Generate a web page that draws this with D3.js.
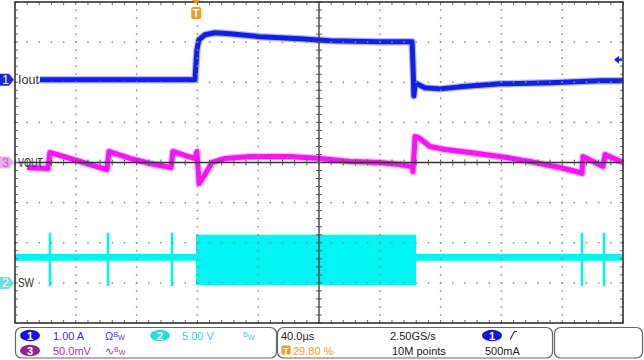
<!DOCTYPE html>
<html>
<head>
<meta charset="utf-8">
<script src="https://cdn.jsdelivr.net/npm/d3@7"></script>
<style>
  body { margin: 0; background: #fff; }
  svg { display: block; font-family: "Liberation Sans", Arial, sans-serif; }
</style>
</head>
<body>
<script>
// Scope settings
var timePerDiv = 40,        // us/div
    triggerPct = 29.80,     // trigger position, % of record
    triggerLevel = 0.5;     // A on ch1

// Iout (ch1), amps
var ioutT = [16.4, 118.4, 119.7, 121.0, 125.0, 131.6, 141.4, 161.2, 187.5, 207.2, 240.1, 261.2, 262.0, 262.4, 263.2, 269.7, 279.6, 292.8, 319.1, 352.0, 384.9, 400];
var ioutA = [0.0, 0.0, 0.75, 1.0, 1.125, 1.175, 1.15, 1.075, 1.025, 0.975, 0.95, 0.95, 0.2, -0.4, -0.075, -0.2, -0.225, -0.175, -0.1, -0.075, -0.025, -0.025];

// VOUT (ch3), mV
var voutT = [7.9, 21.7, 23.0, 29.6, 42.8, 60.5, 61.8, 75.7, 88.8, 102.6, 103.9, 111.8, 118.4, 119.7, 121.1, 125.0, 129.6, 138.2, 154.6, 180.9, 200.7, 220.4, 240.1, 253.3, 261.2, 261.8, 263.2, 266.4, 273.0, 282.9, 299.3, 319.1, 338.8, 358.6, 371.7, 373.0, 373.7, 386.8, 388.2, 400];
var voutMV = [-6.25, -7.5, 12.5, 8.75, 1.25, -8.75, 13.75, 5.0, -1.25, -6.25, 13.75, 8.75, 5.0, 13.75, -26.25, -15.0, 0.0, 5.0, 7.5, 7.5, 5.0, 1.25, 0.0, -2.5, -5.0, -11.25, 32.5, 30.0, 20.0, 16.25, 12.5, 7.5, 1.25, -6.25, -12.5, -13.75, 7.5, -5.0, 10.0, 0.0];

// SW (ch2), volts
var swIdle = 3.2;
var swSpikesT = [23.0, 61.2, 103.3, 373.0, 387.5];
var swSpikeLo = -0.4, swSpikeHi = 6.25;
var swBurst = [119.1, 263.8], swBurstLo = -0.25, swBurstHi = 6.0;

// channel setup: position (div) and scale (unit/div)
var channels = [
  { id: "1", label: "Iout", pos: 2.06, perDiv: 1,  color: "#1020e6", marker: "#1a28d6", mtext: "#fff" },
  { id: "2", label: "SW",   pos: -3.0, perDiv: 5,  color: "#00f4f4", marker: "#72dede", mtext: "#fff" },
  { id: "3", label: "VOUT", pos: 0.0,  perDiv: 50, color: "#f414f4", marker: "#eeaaee", mtext: "#b070b0" }
];

function draw() {
  var width = 644, height = 360;
  var pLeft = 15, pRight = 623, pTop = 2, pBottom = 323;

  var svg = d3.select("body").append("svg")
    .attr("width", width).attr("height", height);

  var x = d3.scaleLinear().domain([0, 10 * timePerDiv]).range([pLeft, pRight]);
  var yDiv = d3.scaleLinear().domain([-4, 4]).range([pBottom, pTop]);
  function yCh(ch, v) { return yDiv(ch.pos + v / ch.perDiv); }

  var ch1 = channels[0], ch2 = channels[1], ch3 = channels[2];

  // ---- traces ----
  var traces = svg.append("g");

  // SW idle band, spikes and burst
  traces.append("line")
    .attr("x1", x(0)).attr("x2", x(400))
    .attr("y1", yCh(ch2, swIdle)).attr("y2", yCh(ch2, swIdle))
    .attr("stroke", ch2.color).attr("stroke-width", 7);
  traces.selectAll("rect.spike").data(swSpikesT).enter().append("rect")
    .attr("class", "spike")
    .attr("x", function(d) { return x(d) - 1.25; })
    .attr("width", 2.5)
    .attr("y", yCh(ch2, swSpikeHi))
    .attr("height", yCh(ch2, swSpikeLo) - yCh(ch2, swSpikeHi))
    .attr("fill", ch2.color);
  traces.append("rect")
    .attr("x", x(swBurst[0])).attr("width", x(swBurst[1]) - x(swBurst[0]))
    .attr("y", yCh(ch2, swBurstHi))
    .attr("height", yCh(ch2, swBurstLo) - yCh(ch2, swBurstHi))
    .attr("fill", ch2.color);

  // VOUT
  var voutLine = d3.line()
    .x(function(d, i) { return x(voutT[i]); })
    .y(function(d) { return yCh(ch3, d); });
  traces.append("path").attr("d", voutLine(voutMV))
    .attr("fill", "none").attr("stroke", ch3.color).attr("stroke-opacity", 0.3)
    .attr("stroke-width", 7.5).attr("stroke-linejoin", "round");
  traces.append("path").attr("d", voutLine(voutMV))
    .attr("fill", "none").attr("stroke", ch3.color)
    .attr("stroke-width", 5).attr("stroke-linejoin", "round");

  // Iout
  var ioutLine = d3.line()
    .x(function(d, i) { return x(ioutT[i]); })
    .y(function(d) { return yCh(ch1, d); });
  traces.append("path").attr("d", ioutLine(ioutA))
    .attr("fill", "none").attr("stroke", ch1.color).attr("stroke-opacity", 0.3)
    .attr("stroke-width", 7.5).attr("stroke-linejoin", "round");
  traces.append("path").attr("d", ioutLine(ioutA))
    .attr("fill", "none").attr("stroke", ch1.color)
    .attr("stroke-width", 5).attr("stroke-linejoin", "round");

  // ---- graticule (drawn over the traces, like the scope does) ----
  var grid = svg.append("g");
  var minorX = d3.range(0, 51).map(function(i) { return i * timePerDiv / 5; });
  var minorY = d3.range(0, 41).map(function(i) { return -4 + i / 5; });
  var majorX = d3.range(1, 10).filter(function(i) { return i !== 5; }).map(function(i) { return i * timePerDiv; });
  var majorY = [-3, -2, -1, 1, 2, 3];

  // dotted grid lines
  majorX.forEach(function(t) {
    grid.selectAll(null).data(minorY).enter().append("rect")
      .attr("x", x(t) - 0.75).attr("y", function(d) { return yDiv(d) - 0.75; })
      .attr("width", 1.5).attr("height", 1.5).attr("fill", "#8a8a8a");
  });
  majorY.forEach(function(v) {
    grid.selectAll(null).data(minorX).enter().append("rect")
      .attr("x", function(d) { return x(d) - 0.75; }).attr("y", yDiv(v) - 0.75)
      .attr("width", 1.5).attr("height", 1.5).attr("fill", "#8a8a8a");
  });

  // center crosshair with ticks
  var cx = x(5 * timePerDiv), cy = yDiv(0);
  grid.append("line").attr("x1", pLeft).attr("x2", pRight).attr("y1", cy).attr("y2", cy)
    .attr("stroke", "#333").attr("stroke-width", 1.3);
  grid.append("line").attr("x1", cx).attr("x2", cx).attr("y1", pTop).attr("y2", pBottom)
    .attr("stroke", "#333").attr("stroke-width", 1.3);
  grid.selectAll(null).data(minorX).enter().append("line")
    .attr("x1", function(d) { return x(d); }).attr("x2", function(d) { return x(d); })
    .attr("y1", cy - 3).attr("y2", cy + 3).attr("stroke", "#555").attr("stroke-width", 1);
  grid.selectAll(null).data(minorY).enter().append("line")
    .attr("y1", function(d) { return yDiv(d); }).attr("y2", function(d) { return yDiv(d); })
    .attr("x1", cx - 3).attr("x2", cx + 3).attr("stroke", "#555").attr("stroke-width", 1);

  // frame with inward ticks
  grid.selectAll(null).data(minorX).enter().append("line")
    .attr("x1", function(d) { return x(d); }).attr("x2", function(d) { return x(d); })
    .attr("y1", pTop).attr("y2", pTop + 3).attr("stroke", "#666");
  grid.selectAll(null).data(minorX).enter().append("line")
    .attr("x1", function(d) { return x(d); }).attr("x2", function(d) { return x(d); })
    .attr("y1", pBottom).attr("y2", pBottom - 3).attr("stroke", "#666");
  grid.selectAll(null).data(minorY).enter().append("line")
    .attr("y1", function(d) { return yDiv(d); }).attr("y2", function(d) { return yDiv(d); })
    .attr("x1", pLeft).attr("x2", pLeft + 3).attr("stroke", "#666");
  grid.selectAll(null).data(minorY).enter().append("line")
    .attr("y1", function(d) { return yDiv(d); }).attr("y2", function(d) { return yDiv(d); })
    .attr("x1", pRight).attr("x2", pRight - 3).attr("stroke", "#666");
  grid.append("rect").attr("x", pLeft).attr("y", pTop)
    .attr("width", pRight - pLeft).attr("height", pBottom - pTop)
    .attr("fill", "none").attr("stroke", "#333").attr("stroke-width", 1.6);

  // ---- channel labels and markers ----
  var labelWidth = { "Iout": 21, "VOUT": 25, "SW": 16 };
  channels.forEach(function(ch) {
    var y0 = yCh(ch, 0);
    svg.append("path")
      .attr("d", "M0," + (y0 - 6) + "H9L14," + y0 + "L9," + (y0 + 6) + "H0Z")
      .attr("fill", ch.marker);
    svg.append("text").attr("x", 5.5).attr("y", y0 + 4.5)
      .attr("text-anchor", "middle").attr("font-size", 12)
      .attr("fill", ch.mtext).text(ch.id);
    svg.append("text").attr("x", 18).attr("y", y0 + 4.5)
      .attr("font-size", 12).attr("fill", "#333")
      .attr("textLength", labelWidth[ch.label]).attr("lengthAdjust", "spacingAndGlyphs")
      .text(ch.label);
  });

  // trigger position marker (top)
  var tx = x(triggerPct / 100 * 10 * timePerDiv);
  svg.append("path").attr("d", "M" + (tx - 4) + ",0H" + (tx + 4) + "L" + tx + ",4Z").attr("fill", "#f29a1e");
  svg.append("rect").attr("x", tx - 5).attr("y", 7).attr("width", 10).attr("height", 12)
    .attr("rx", 2).attr("fill", "#f29a1e");
  svg.append("text").attr("x", tx).attr("y", 17).attr("text-anchor", "middle")
    .attr("font-size", 11).attr("font-weight", "bold").attr("fill", "#fff").text("T");

  // trigger level marker (right)
  var ty = yCh(ch1, triggerLevel);
  svg.append("path").attr("d", "M" + (pRight - 9) + "," + ty + "L" + (pRight - 4) + "," + (ty - 4) + "V" + (ty + 4) + "Z")
    .attr("fill", ch1.color);
  svg.append("line").attr("x1", pRight - 5).attr("x2", pRight - 1).attr("y1", ty).attr("y2", ty)
    .attr("stroke", ch1.color).attr("stroke-width", 2);

  // ---- readout panel ----
  var panel = svg.append("g").attr("font-size", 11);
  [[15.5, 261], [277.5, 275], [554.5, 88]].forEach(function(b) {
    panel.append("rect").attr("x", b[0]).attr("y", 327.5).attr("width", b[1]).attr("height", 30.5)
      .attr("rx", 6).attr("fill", "none").attr("stroke", "#666").attr("stroke-width", 1.2);
  });

  function badge(cxp, cyp, fill, txt) {
    panel.append("ellipse").attr("cx", cxp).attr("cy", cyp).attr("rx", 10).attr("ry", 5.8).attr("fill", fill);
    panel.append("text").attr("x", cxp).attr("y", cyp + 4).attr("text-anchor", "middle")
      .attr("fill", "#fff").attr("font-size", 11).attr("font-weight", "bold").text(txt);
  }
  function bw(xp, yp, color, sym) {
    var t = panel.append("text").attr("x", xp).attr("y", yp).attr("fill", color);
    if (sym) t.append("tspan").attr("font-size", 11).text(sym);
    t.append("tspan").attr("font-size", 7).attr("dy", -3).text("B");
    t.append("tspan").attr("font-size", 7).attr("dy", 3).text("W");
  }

  badge(30, 335.5, "#1414dc", "1");
  panel.append("text").attr("x", 53).attr("y", 340).attr("fill", "#3030f0").text("1.00 A");
  bw(105, 340, "#3a3af0", "\u03A9");
  badge(160, 335.5, "#28dcdc", "2");
  panel.append("text").attr("x", 182).attr("y", 340).attr("fill", "#30d0d0").text("5.00 V");
  bw(243, 340, "#30d0d0", null);
  badge(30, 350.5, "#8c248c", "3");
  panel.append("text").attr("x", 53).attr("y", 355).attr("fill", "#b030b0").text("50.0mV");
  bw(105, 355, "#b030b0", "\u223F");

  panel.append("text").attr("x", 281).attr("y", 340).attr("fill", "#222").text("40.0\u00B5s");
  panel.append("rect").attr("x", 281.5).attr("y", 345.5).attr("width", 9).attr("height", 9).attr("rx", 1.5).attr("fill", "#f29a1e");
  panel.append("text").attr("x", 286).attr("y", 353.5).attr("text-anchor", "middle").attr("font-size", 9)
    .attr("font-weight", "bold").attr("fill", "#fff").text("T");
  panel.append("text").attr("x", 293).attr("y", 355).attr("fill", "#f29a1e").text(triggerPct.toFixed(2) + " %");
  panel.append("text").attr("x", 390).attr("y", 340).attr("fill", "#222").text("2.50GS/s");
  panel.append("text").attr("x", 392).attr("y", 355).attr("fill", "#222").text("10M points");
  badge(492, 335.5, "#1414dc", "1");
  panel.append("path").attr("d", "M510,339.5L514.5,331.5H517").attr("fill", "none").attr("stroke", "#333").attr("stroke-width", 1.2);
  panel.append("text").attr("x", 485).attr("y", 355).attr("fill", "#222").text((triggerLevel * 1000) + "mA");
}

draw();
</script>
</body>
</html>
